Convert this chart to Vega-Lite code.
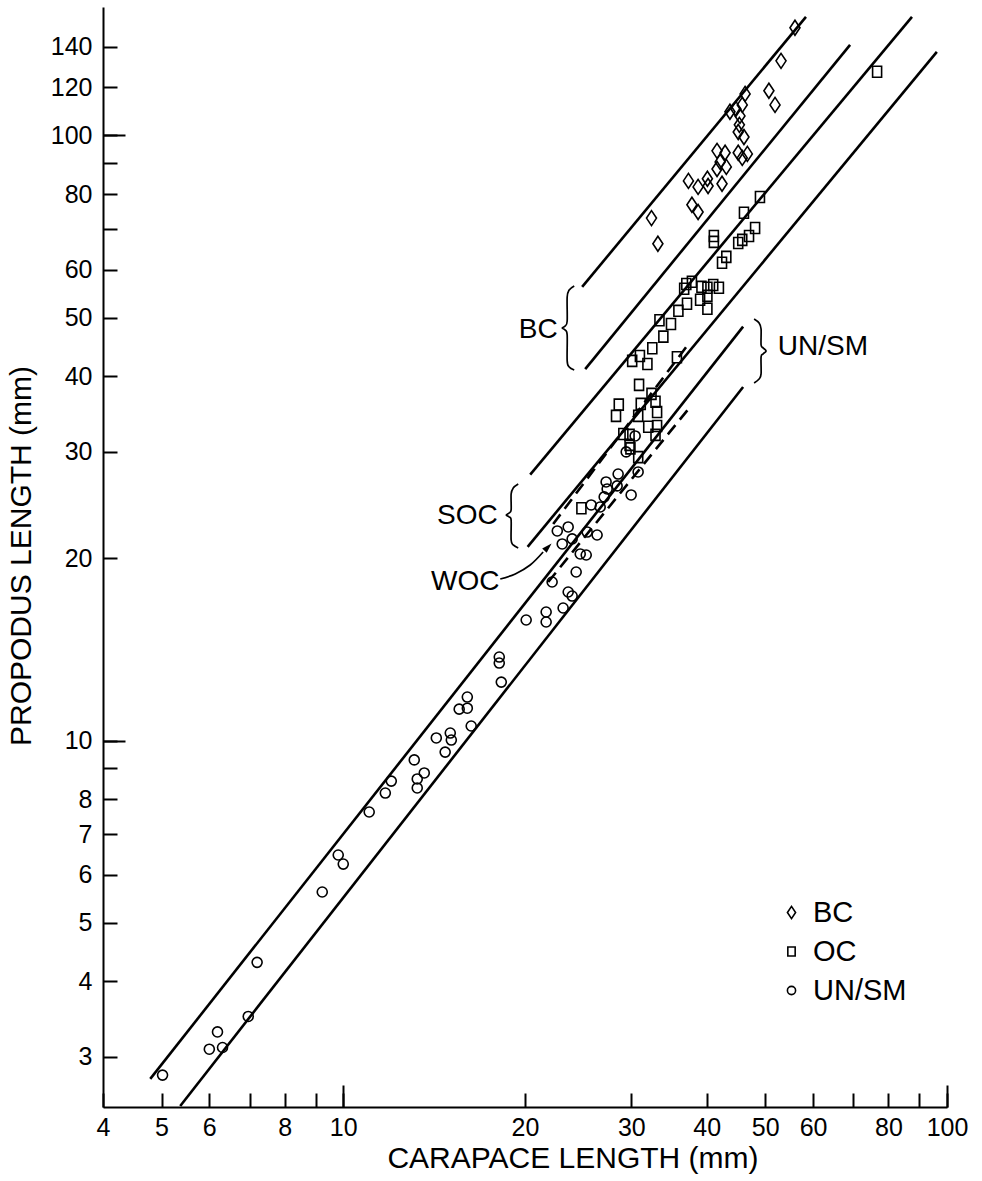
{
  "$schema": "https://vega.github.io/schema/vega-lite/v6.json",
  "width": 844,
  "height": 1100,
  "autosize": {"type": "none"},
  "padding": {"left": 103, "top": 7, "right": 35, "bottom": 74},
  "background": "white",
  "config": {"view": {"stroke": null}, "font": "Liberation Sans"},
  "datasets": {
    "solid": [
      {"id": "BC1", "o": 1, "x": 24.87, "y": 56.2}, {"id": "BC1", "o": 2, "x": 58.4, "y": 157.0},
      {"id": "BC2", "o": 1, "x": 25.16, "y": 41.1}, {"id": "BC2", "o": 2, "x": 69.1, "y": 141.1},
      {"id": "SOC1", "o": 1, "x": 20.4, "y": 27.5}, {"id": "SOC1", "o": 2, "x": 87.5, "y": 157.0},
      {"id": "SOC2", "o": 1, "x": 20.2, "y": 20.9}, {"id": "SOC2", "o": 2, "x": 96.2, "y": 137.4},
      {"id": "UN1", "o": 1, "x": 4.79, "y": 2.76}, {"id": "UN1", "o": 2, "x": 45.95, "y": 48.3},
      {"id": "UN2", "o": 1, "x": 5.37, "y": 2.49}, {"id": "UN2", "o": 2, "x": 45.95, "y": 38.4}
    ],
    "dashed": [
      {"id": "WOC1", "o": 1, "x": 22.27, "y": 22.8}, {"id": "WOC1", "o": 2, "x": 37.55, "y": 45.6},
      {"id": "WOC2", "o": 1, "x": 21.85, "y": 18.28}, {"id": "WOC2", "o": 2, "x": 37.55, "y": 35.6}
    ],
    "thin": [
      {"id": "bBC", "o": 1, "x": 24.13, "y": 56.38}, {"id": "bBC", "o": 2, "x": 23.67, "y": 55.53},
      {"id": "bBC", "o": 3, "x": 23.49, "y": 54.07}, {"id": "bBC", "o": 4, "x": 23.49, "y": 49.36},
      {"id": "bBC", "o": 5, "x": 23.31, "y": 48.43}, {"id": "bBC", "o": 6, "x": 23.05, "y": 48.06},
      {"id": "bBC", "o": 7, "x": 23.31, "y": 47.7}, {"id": "bBC", "o": 8, "x": 23.49, "y": 46.8},
      {"id": "bBC", "o": 9, "x": 23.49, "y": 42.4}, {"id": "bBC", "o": 10, "x": 23.67, "y": 41.44},
      {"id": "bBC", "o": 11, "x": 24.13, "y": 40.97},
      {"id": "bSOC", "o": 1, "x": 19.49, "y": 26.54}, {"id": "bSOC", "o": 2, "x": 19.12, "y": 26.14},
      {"id": "bSOC", "o": 3, "x": 18.97, "y": 25.55}, {"id": "bSOC", "o": 4, "x": 18.97, "y": 24.05},
      {"id": "bSOC", "o": 5, "x": 18.83, "y": 23.77}, {"id": "bSOC", "o": 6, "x": 18.62, "y": 23.59},
      {"id": "bSOC", "o": 7, "x": 18.83, "y": 23.41}, {"id": "bSOC", "o": 8, "x": 18.97, "y": 23.14},
      {"id": "bSOC", "o": 9, "x": 18.97, "y": 21.45}, {"id": "bSOC", "o": 10, "x": 19.12, "y": 21.05},
      {"id": "bSOC", "o": 11, "x": 19.49, "y": 20.81},
      {"id": "bUN", "o": 1, "x": 47.92, "y": 49.74}, {"id": "bUN", "o": 2, "x": 48.84, "y": 48.98},
      {"id": "bUN", "o": 3, "x": 49.21, "y": 47.87}, {"id": "bUN", "o": 4, "x": 49.21, "y": 45.06},
      {"id": "bUN", "o": 5, "x": 49.59, "y": 44.55}, {"id": "bUN", "o": 6, "x": 50.16, "y": 44.04},
      {"id": "bUN", "o": 7, "x": 49.59, "y": 43.54}, {"id": "bUN", "o": 8, "x": 49.21, "y": 43.05},
      {"id": "bUN", "o": 9, "x": 49.21, "y": 40.35}, {"id": "bUN", "o": 10, "x": 48.84, "y": 39.59},
      {"id": "bUN", "o": 11, "x": 47.92, "y": 38.99},
      {"id": "arrow", "o": 1, "x": 18.2, "y": 18.49}, {"id": "arrow", "o": 2, "x": 19.27, "y": 18.85},
      {"id": "arrow", "o": 3, "x": 20.4, "y": 19.5}, {"id": "arrow", "o": 4, "x": 21.43, "y": 20.49}
    ],
    "head": [{"x": 21.76, "y": 20.81}],
    "labels": [
      {"t": "BC", "x": 21.03, "y": 47.7},
      {"t": "SOC", "x": 16.05, "y": 23.5},
      {"t": "WOC", "x": 15.92, "y": 18.28},
      {"t": "UN/SM", "x": 62.3, "y": 44.7}
    ],
    "pts": [
      {"g": "BC", "x": 56.0, "y": 150.6}, {"g": "BC", "x": 53.1, "y": 132.8}, {"g": "BC", "x": 50.7, "y": 118.5},
      {"g": "BC", "x": 51.9, "y": 112.3}, {"g": "BC", "x": 46.3, "y": 117.1}, {"g": "BC", "x": 45.8, "y": 112.3},
      {"g": "BC", "x": 43.7, "y": 109.4}, {"g": "BC", "x": 44.7, "y": 110.6}, {"g": "BC", "x": 45.4, "y": 107.7},
      {"g": "BC", "x": 45.3, "y": 104.1}, {"g": "BC", "x": 45.1, "y": 101.3}, {"g": "BC", "x": 46.1, "y": 99.4},
      {"g": "BC", "x": 45.1, "y": 93.6}, {"g": "BC", "x": 46.7, "y": 93.2}, {"g": "BC", "x": 45.8, "y": 91.8},
      {"g": "BC", "x": 41.6, "y": 94.3}, {"g": "BC", "x": 42.9, "y": 93.6}, {"g": "BC", "x": 42.1, "y": 90.4},
      {"g": "BC", "x": 41.6, "y": 88.0}, {"g": "BC", "x": 43.1, "y": 88.7}, {"g": "BC", "x": 37.3, "y": 84.1},
      {"g": "BC", "x": 38.7, "y": 82.2}, {"g": "BC", "x": 40.1, "y": 84.8}, {"g": "BC", "x": 40.2, "y": 82.5},
      {"g": "BC", "x": 42.4, "y": 83.2}, {"g": "BC", "x": 37.8, "y": 76.8}, {"g": "BC", "x": 38.7, "y": 74.7},
      {"g": "BC", "x": 32.4, "y": 73.0}, {"g": "BC", "x": 33.2, "y": 66.2},
      {"g": "OC", "x": 76.6, "y": 127.4}, {"g": "OC", "x": 49.0, "y": 79.1}, {"g": "OC", "x": 46.1, "y": 74.5},
      {"g": "OC", "x": 48.1, "y": 70.3}, {"g": "OC", "x": 47.0, "y": 68.2}, {"g": "OC", "x": 45.8, "y": 67.2},
      {"g": "OC", "x": 45.1, "y": 66.4}, {"g": "OC", "x": 41.1, "y": 68.2}, {"g": "OC", "x": 41.1, "y": 66.7},
      {"g": "OC", "x": 43.1, "y": 63.0}, {"g": "OC", "x": 42.4, "y": 61.6}, {"g": "OC", "x": 37.0, "y": 56.8},
      {"g": "OC", "x": 37.8, "y": 57.3}, {"g": "OC", "x": 39.2, "y": 56.2}, {"g": "OC", "x": 40.1, "y": 56.0},
      {"g": "OC", "x": 41.0, "y": 56.6}, {"g": "OC", "x": 41.9, "y": 56.0}, {"g": "OC", "x": 36.7, "y": 55.8},
      {"g": "OC", "x": 39.0, "y": 53.5}, {"g": "OC", "x": 40.1, "y": 54.3}, {"g": "OC", "x": 37.1, "y": 52.7},
      {"g": "OC", "x": 35.9, "y": 51.3}, {"g": "OC", "x": 40.1, "y": 51.7}, {"g": "OC", "x": 33.4, "y": 49.5},
      {"g": "OC", "x": 34.9, "y": 48.8}, {"g": "OC", "x": 33.9, "y": 46.5}, {"g": "OC", "x": 32.5, "y": 44.5},
      {"g": "OC", "x": 30.1, "y": 42.4}, {"g": "OC", "x": 31.0, "y": 43.2}, {"g": "OC", "x": 31.9, "y": 41.9},
      {"g": "OC", "x": 35.7, "y": 43.0}, {"g": "OC", "x": 30.9, "y": 38.7}, {"g": "OC", "x": 32.4, "y": 37.4},
      {"g": "OC", "x": 32.9, "y": 36.3}, {"g": "OC", "x": 31.1, "y": 36.0}, {"g": "OC", "x": 28.6, "y": 35.9},
      {"g": "OC", "x": 28.3, "y": 34.4}, {"g": "OC", "x": 30.8, "y": 34.4}, {"g": "OC", "x": 33.1, "y": 34.9},
      {"g": "OC", "x": 32.0, "y": 33.0}, {"g": "OC", "x": 33.1, "y": 33.1}, {"g": "OC", "x": 32.9, "y": 32.0},
      {"g": "OC", "x": 29.1, "y": 32.1}, {"g": "OC", "x": 29.8, "y": 32.0}, {"g": "OC", "x": 29.8, "y": 30.8},
      {"g": "OC", "x": 29.9, "y": 30.4}, {"g": "OC", "x": 30.8, "y": 29.4}, {"g": "OC", "x": 24.8, "y": 24.2},
      {"g": "UN/SM", "x": 5.02, "y": 2.8}, {"g": "UN/SM", "x": 6.0, "y": 3.09}, {"g": "UN/SM", "x": 6.19, "y": 3.3},
      {"g": "UN/SM", "x": 6.31, "y": 3.11}, {"g": "UN/SM", "x": 6.96, "y": 3.5}, {"g": "UN/SM", "x": 7.2, "y": 4.3},
      {"g": "UN/SM", "x": 9.23, "y": 5.62}, {"g": "UN/SM", "x": 9.81, "y": 6.47}, {"g": "UN/SM", "x": 10.0, "y": 6.25},
      {"g": "UN/SM", "x": 11.04, "y": 7.62}, {"g": "UN/SM", "x": 11.74, "y": 8.19}, {"g": "UN/SM", "x": 12.01, "y": 8.57},
      {"g": "UN/SM", "x": 13.11, "y": 9.29}, {"g": "UN/SM", "x": 13.26, "y": 8.64}, {"g": "UN/SM", "x": 13.62, "y": 8.84},
      {"g": "UN/SM", "x": 13.26, "y": 8.35}, {"g": "UN/SM", "x": 14.26, "y": 10.1}, {"g": "UN/SM", "x": 15.04, "y": 10.29},
      {"g": "UN/SM", "x": 15.1, "y": 10.02}, {"g": "UN/SM", "x": 14.75, "y": 9.57}, {"g": "UN/SM", "x": 15.56, "y": 11.27},
      {"g": "UN/SM", "x": 16.05, "y": 11.8}, {"g": "UN/SM", "x": 16.05, "y": 11.31}, {"g": "UN/SM", "x": 16.29, "y": 10.57},
      {"g": "UN/SM", "x": 18.13, "y": 13.74}, {"g": "UN/SM", "x": 18.13, "y": 13.43}, {"g": "UN/SM", "x": 18.27, "y": 12.49},
      {"g": "UN/SM", "x": 20.09, "y": 15.82}, {"g": "UN/SM", "x": 21.68, "y": 16.31}, {"g": "UN/SM", "x": 21.68, "y": 15.7},
      {"g": "UN/SM", "x": 23.13, "y": 16.56}, {"g": "UN/SM", "x": 23.58, "y": 17.6}, {"g": "UN/SM", "x": 22.18, "y": 18.28},
      {"g": "UN/SM", "x": 24.31, "y": 18.99}, {"g": "UN/SM", "x": 23.94, "y": 17.33}, {"g": "UN/SM", "x": 24.69, "y": 20.34},
      {"g": "UN/SM", "x": 25.26, "y": 20.26}, {"g": "UN/SM", "x": 23.05, "y": 21.13}, {"g": "UN/SM", "x": 23.94, "y": 21.54},
      {"g": "UN/SM", "x": 22.62, "y": 22.2}, {"g": "UN/SM", "x": 23.58, "y": 22.54}, {"g": "UN/SM", "x": 25.35, "y": 22.11},
      {"g": "UN/SM", "x": 26.33, "y": 21.86}, {"g": "UN/SM", "x": 25.74, "y": 24.51}, {"g": "UN/SM", "x": 26.64, "y": 24.32},
      {"g": "UN/SM", "x": 27.05, "y": 25.27}, {"g": "UN/SM", "x": 27.36, "y": 26.05}, {"g": "UN/SM", "x": 28.42, "y": 26.35},
      {"g": "UN/SM", "x": 28.53, "y": 27.57}, {"g": "UN/SM", "x": 29.98, "y": 25.46}, {"g": "UN/SM", "x": 30.79, "y": 27.79},
      {"g": "UN/SM", "x": 29.42, "y": 29.99}, {"g": "UN/SM", "x": 30.44, "y": 31.87}, {"g": "UN/SM", "x": 27.25, "y": 26.75}
    ]
  },
  "layer": [
    {
      "data": {"name": "solid"},
      "mark": {"type": "line", "color": "black", "strokeWidth": 2.6},
      "encoding": {
        "x": {"field": "x", "type": "quantitative", "scale": {"type": "log", "domain": [4, 100], "nice": false},
          "axis": {"orient": "bottom", "values": [10, 100], "tickSize": -22, "tickWidth": 2, "tickColor": "black", "labels": false, "domain": false, "grid": false, "title": null}},
        "y": {"field": "y", "type": "quantitative", "scale": {"type": "log", "domain": [2.48, 163], "nice": false},
          "axis": {"orient": "left", "values": [10, 100], "tickSize": -22, "tickWidth": 2, "tickColor": "black", "labels": false, "domain": false, "grid": false, "title": null}},
        "detail": {"field": "id"},
        "order": {"field": "o"}
      }
    },
    {
      "data": {"name": "dashed"},
      "mark": {"type": "line", "color": "black", "strokeWidth": 2.6, "strokeDash": [12, 7]},
      "encoding": {
        "x": {"field": "x", "type": "quantitative", "scale": {"type": "log", "domain": [4, 100], "nice": false}, "axis": null},
        "y": {"field": "y", "type": "quantitative", "scale": {"type": "log", "domain": [2.48, 163], "nice": false}, "axis": null},
        "detail": {"field": "id"},
        "order": {"field": "o"}
      }
    },
    {
      "data": {"name": "thin"},
      "mark": {"type": "line", "color": "black", "strokeWidth": 1.7, "interpolate": "cardinal"},
      "encoding": {
        "x": {"field": "x", "type": "quantitative", "scale": {"type": "log", "domain": [4, 100], "nice": false}, "axis": null},
        "y": {"field": "y", "type": "quantitative", "scale": {"type": "log", "domain": [2.48, 163], "nice": false}, "axis": null},
        "detail": {"field": "id"},
        "order": {"field": "o"}
      }
    },
    {
      "data": {"name": "head"},
      "mark": {"type": "point", "shape": "M0,-1L0.5,0.6L-0.5,0.6Z", "angle": 45, "filled": true, "color": "black", "size": 160, "opacity": 1},
      "encoding": {
        "x": {"field": "x", "type": "quantitative", "scale": {"type": "log", "domain": [4, 100], "nice": false}, "axis": null},
        "y": {"field": "y", "type": "quantitative", "scale": {"type": "log", "domain": [2.48, 163], "nice": false}, "axis": null}
      }
    },
    {
      "data": {"name": "pts"},
      "mark": {"type": "point", "filled": false, "color": "black", "strokeWidth": 1.6, "size": 225, "opacity": 1},
      "encoding": {
        "x": {"field": "x", "type": "quantitative", "scale": {"type": "log", "domain": [4, 100], "nice": false},
          "axis": {"orient": "bottom", "values": [4, 5, 6, 7, 8, 9, 10, 20, 30, 40, 50, 60, 70, 80, 90, 100], "format": "d",
            "labelExpr": "indexof([7, 9, 70, 90], datum.value) >= 0 ? '' : datum.label",
            "tickSize": -14, "tickWidth": 2, "tickColor": "black", "domainColor": "black", "domainWidth": 2,
            "labelFont": "Liberation Sans", "labelFontSize": 25, "labelColor": "black", "labelPadding": 22,
            "labelFlush": false, "labelOverlap": false, "grid": false,
            "title": "CARAPACE LENGTH (mm)", "titleFont": "Liberation Sans", "titleFontSize": 30, "titleFontWeight": "normal",
            "titleColor": "black", "titleX": 469.5, "titleY": 60, "titleAlign": "center", "titleBaseline": "alphabetic"}},
        "y": {"field": "y", "type": "quantitative", "scale": {"type": "log", "domain": [2.48, 163], "nice": false},
          "axis": {"orient": "left", "values": [3, 4, 5, 6, 7, 8, 9, 10, 20, 30, 40, 50, 60, 70, 80, 90, 100, 120, 140], "format": "d",
            "labelExpr": "indexof([9, 70, 90], datum.value) >= 0 ? '' : datum.label",
            "tickSize": -14, "tickWidth": 2, "tickColor": "black", "domainColor": "black", "domainWidth": 2,
            "labelFont": "Liberation Sans", "labelFontSize": 25, "labelColor": "black", "labelPadding": 25,
            "labelFlush": false, "labelOverlap": false, "grid": false,
            "title": "PROPODUS LENGTH (mm)", "titleFont": "Liberation Sans", "titleFontSize": 30, "titleFontWeight": "normal",
            "titleColor": "black", "titleX": -73, "titleY": 548.5, "titleAngle": -90, "titleAlign": "center", "titleBaseline": "alphabetic"}},
        "shape": {"field": "g", "type": "nominal",
          "scale": {"domain": ["BC", "OC", "UN/SM"],
            "range": ["M0,-1L0.667,0L0,1L-0.667,0Z", "M-0.6,-0.733L0.6,-0.733L0.6,0.733L-0.6,0.733Z", "M0.667,0A0.667,0.667,0,1,1,-0.667,0A0.667,0.667,0,1,1,0.667,0Z"]},
          "legend": {"title": null, "orient": "none", "legendX": 674, "legendY": 891, "direction": "vertical",
            "labelFont": "Liberation Sans", "labelFontSize": 29, "labelColor": "black",
            "symbolSize": 150, "symbolStrokeWidth": 1.6, "symbolStrokeColor": "black", "symbolFillColor": "transparent",
            "rowPadding": 9, "labelOffset": 7, "padding": 0}}
      }
    },
    {
      "data": {"name": "labels"},
      "mark": {"type": "text", "font": "Liberation Sans", "fontSize": 28, "color": "black", "align": "center", "baseline": "middle"},
      "encoding": {
        "x": {"field": "x", "type": "quantitative", "scale": {"type": "log", "domain": [4, 100], "nice": false}, "axis": null},
        "y": {"field": "y", "type": "quantitative", "scale": {"type": "log", "domain": [2.48, 163], "nice": false}, "axis": null},
        "text": {"field": "t"}
      }
    }
  ],
  "resolve": {"axis": {"x": "independent", "y": "independent"}}
}
